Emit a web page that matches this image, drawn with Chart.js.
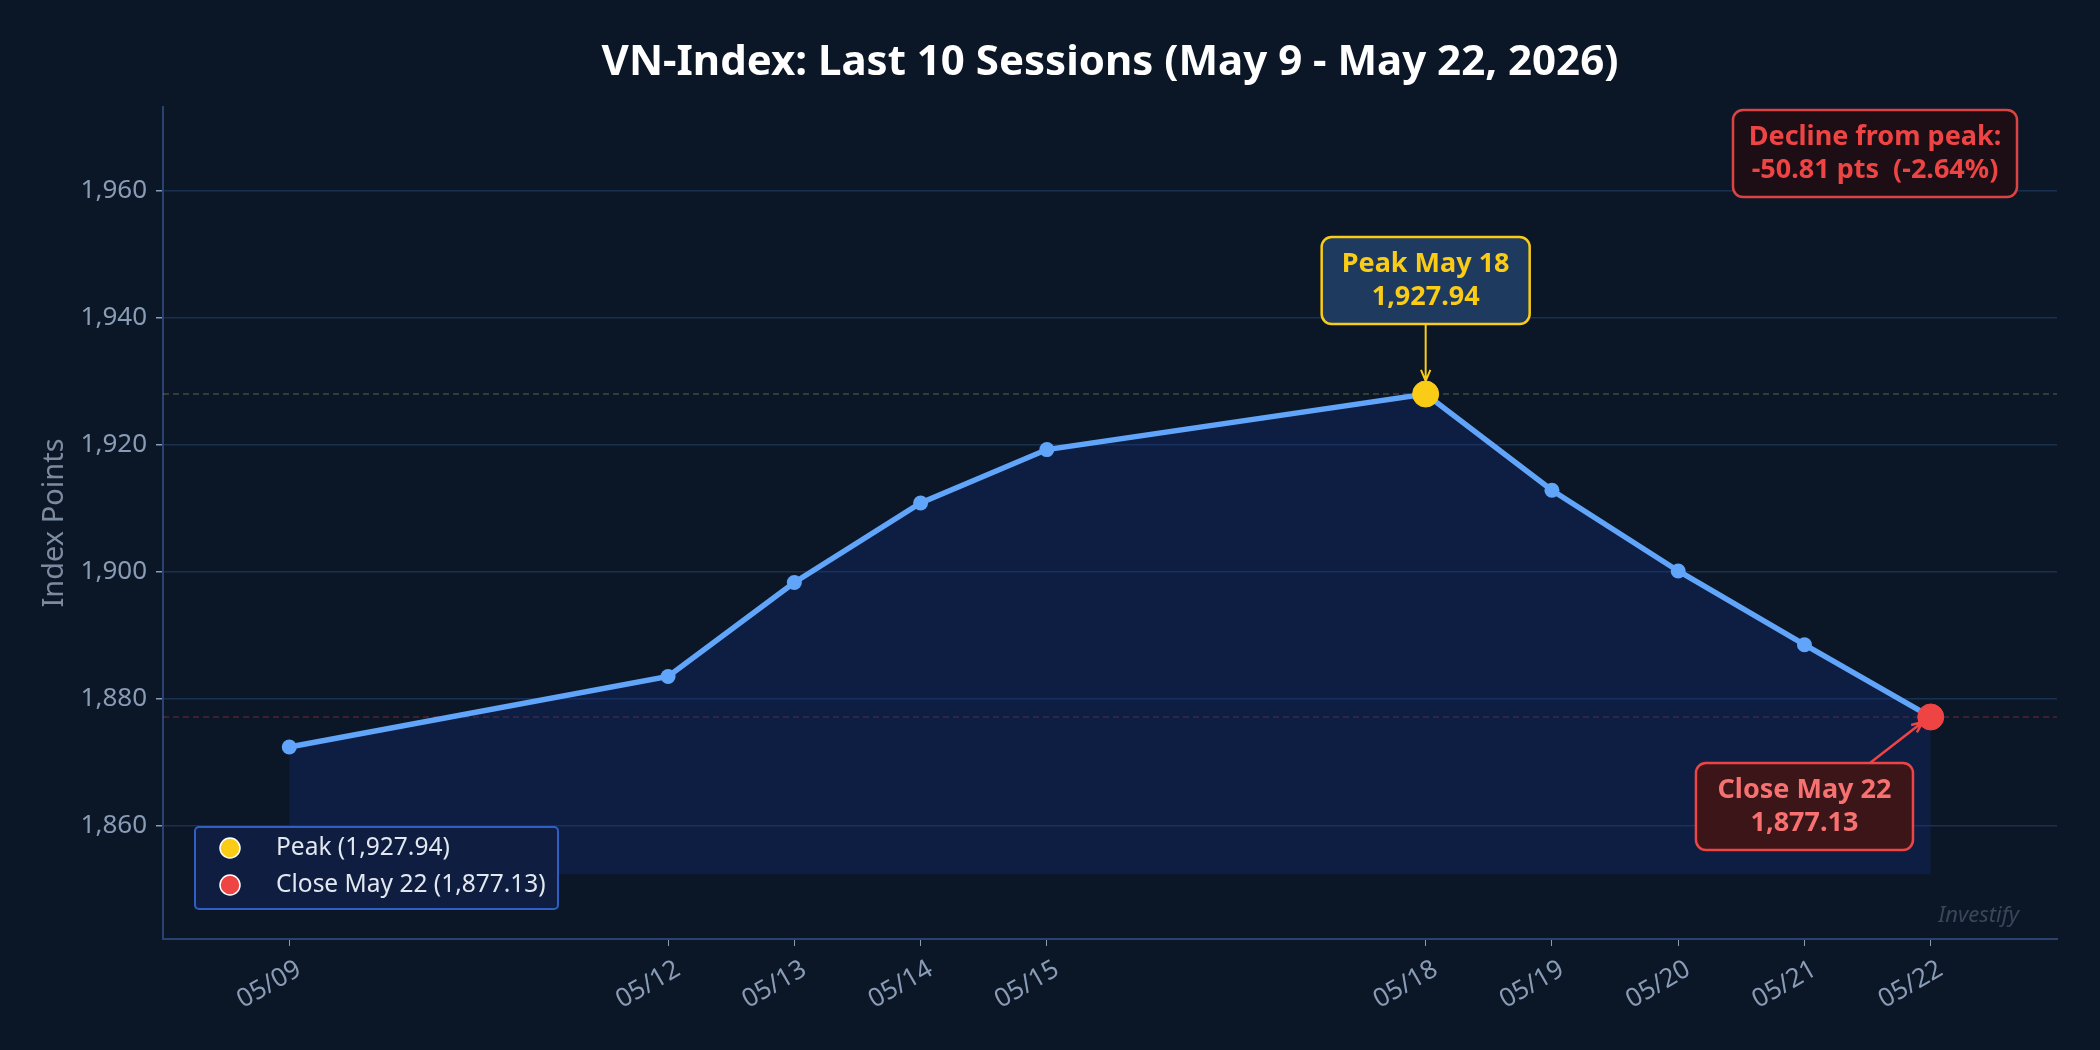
<!DOCTYPE html>
<html>
<head>
<meta charset="utf-8">
<script src="https://cdn.jsdelivr.net/npm/chart.js@4.4.1/dist/chart.umd.min.js"></script>
<style>
html, body { margin: 0; padding: 0; background: #0b1627; }
#wrap { width: 2100px; height: 1050px; }
</style>
</head>
<body>
<div id="wrap"><canvas id="chart" width="2100" height="1050"></canvas></div>
<script>
// session days in May 2026 and their labels
const days = [9, 12, 13, 14, 15, 18, 19, 20, 21, 22];
const dateLabels = ['05/09', '05/12', '05/13', '05/14', '05/15', '05/18', '05/19', '05/20', '05/21', '05/22'];
const closes = [1872.4, 1883.5, 1898.3, 1910.8, 1919.2, 1927.94, 1912.8, 1900.1, 1888.5, 1877.13];
const yTicks = [1860, 1880, 1900, 1920, 1940, 1960];
const fillBase = 1852.4;

const peakIdx = closes.indexOf(Math.max(...closes));
const lastIdx = closes.length - 1;
const peakVal = closes[peakIdx];
const lastVal = closes[lastIdx];
const drop = peakVal - lastVal;
const dropPct = drop / peakVal * 100;

const TITLE = 'VN-Index: Last 10 Sessions (May 9 - May 22, 2026)';
const fmt = v => v.toLocaleString('en-US', { minimumFractionDigits: 2, maximumFractionDigits: 2 });
const FONT = "'Noto Sans', 'Open Sans', sans-serif";

const bgPlugin = {
    id: 'bg',
    beforeDraw(chart) {
        const ctx = chart.ctx;
        ctx.save();
        ctx.fillStyle = '#0b1627';
        ctx.fillRect(0, 0, chart.width, chart.height);
        ctx.restore();
    }
};

function arrow(ctx, x1, y1, x2, y2, color, w) {
    const ang = Math.atan2(y2 - y1, x2 - x1);
    const head = 12;
    ctx.save();
    ctx.strokeStyle = color;
    ctx.lineWidth = w;
    ctx.beginPath();
    ctx.moveTo(x1, y1);
    ctx.lineTo(x2, y2);
    ctx.moveTo(x2 - head * Math.cos(ang - 0.4), y2 - head * Math.sin(ang - 0.4));
    ctx.lineTo(x2, y2);
    ctx.lineTo(x2 - head * Math.cos(ang + 0.4), y2 - head * Math.sin(ang + 0.4));
    ctx.stroke();
    ctx.restore();
}

function box(ctx, x, y, w, h, fill, stroke, lines, color) {
    ctx.save();
    ctx.beginPath();
    ctx.roundRect(x, y, w, h, 10);
    ctx.fillStyle = fill;
    ctx.fill();
    ctx.lineWidth = 2.5;
    ctx.strokeStyle = stroke;
    ctx.stroke();
    ctx.fillStyle = color;
    ctx.font = 'bold 27px ' + FONT;
    ctx.textAlign = 'center';
    ctx.textBaseline = 'middle';
    const lh = 33;
    const y0 = y + h / 2 - (lines.length - 1) * lh / 2;
    lines.forEach((t, i) => ctx.fillText(t, x + w / 2, y0 + i * lh));
    ctx.restore();
}

const notesPlugin = {
    id: 'notes',
    afterDatasetsDraw(chart) {
        const ctx = chart.ctx;
        const xs = chart.scales.x, ys = chart.scales.y;
        const area = chart.chartArea;

        // title, centred over the plot area
        ctx.save();
        ctx.fillStyle = '#ffffff';
        ctx.font = 'bold 42px ' + FONT;
        ctx.textAlign = 'center';
        ctx.textBaseline = 'alphabetic';
        ctx.fillText(TITLE, (area.left + area.right) / 2, 75);
        ctx.restore();

        // peak callout
        const px = xs.getPixelForValue(days[peakIdx]);
        const py = ys.getPixelForValue(peakVal);
        const pw = 208, ph = 87;
        const pTop = py - 70 - ph;
        arrow(ctx, px, pTop + ph, px, py - 13, '#facc15', 2);
        box(ctx, px - pw / 2, pTop, pw, ph, '#1e3a5f', '#facc15',
            ['Peak May 18', fmt(peakVal)], '#facc15');

        // close callout
        const cx = xs.getPixelForValue(days[lastIdx]);
        const cy = ys.getPixelForValue(lastVal);
        const bx = xs.getPixelForValue(days[lastIdx - 1]);
        const cw = 217, ch = 87;
        const cTop = cy + 46;
        arrow(ctx, bx - cw / 2 + 174, cTop, cx - 8, cy + 5, '#ef4444', 2.5);
        box(ctx, bx - cw / 2, cTop, cw, ch, '#3b1518', '#ef4444',
            ['Close May 22', fmt(lastVal)], '#f87171');

        // decline summary
        const dw = 284, dh = 87;
        box(ctx, area.right - 40 - dw, area.top + 3, dw, dh, '#1c0e14', '#dc4444',
            ['Decline from peak:', '-' + drop.toFixed(2) + ' pts  (-' + dropPct.toFixed(2) + '%)'], '#ef4444');

        // legend
        const lx = area.left + 32, ly = area.bottom - 30 - 82;
        ctx.save();
        ctx.beginPath();
        ctx.roundRect(lx, ly, 363, 82, 4);
        ctx.fillStyle = '#0e1d40';
        ctx.fill();
        ctx.strokeStyle = '#2f5fc4';
        ctx.lineWidth = 2;
        ctx.stroke();
        const items = chart.data.datasets.filter(d => d.inLegend);
        items.forEach((d, i) => {
            const yy = ly + 21 + i * 37;
            ctx.beginPath();
            ctx.arc(lx + 35, yy, 10, 0, Math.PI * 2);
            ctx.fillStyle = d.backgroundColor;
            ctx.fill();
            ctx.strokeStyle = '#ffffff';
            ctx.lineWidth = 1.5;
            ctx.stroke();
            ctx.fillStyle = '#e2e8f0';
            ctx.font = '24.5px ' + FONT;
            ctx.textAlign = 'left';
            ctx.textBaseline = 'middle';
            ctx.fillText(d.label, lx + 81, yy);
        });
        ctx.restore();

        // watermark
        ctx.save();
        ctx.fillStyle = '#3a4758';
        ctx.font = 'italic 22px ' + FONT;
        ctx.textAlign = 'right';
        ctx.textBaseline = 'middle';
        ctx.fillText('Investify', area.right - 38, area.bottom - 23);
        ctx.restore();
    }
};

const ctx = document.getElementById('chart').getContext('2d');
new Chart(ctx, {
    type: 'line',
    data: {
        datasets: [
            {
                label: 'Peak (' + fmt(peakVal) + ')',
                inLegend: true,
                data: [{ x: days[peakIdx], y: peakVal }],
                backgroundColor: '#facc15',
                borderColor: '#facc15',
                pointRadius: 13,
                showLine: false,
                order: 0
            },
            {
                label: 'Close May 22 (' + fmt(lastVal) + ')',
                inLegend: true,
                data: [{ x: days[lastIdx], y: lastVal }],
                backgroundColor: '#ef4444',
                borderColor: '#ef4444',
                pointRadius: 13,
                showLine: false,
                order: 0
            },
            {
                label: 'VN-Index',
                data: days.map((d, i) => ({ x: d, y: closes[i] })),
                borderColor: '#60a5fa',
                backgroundColor: 'rgba(20, 50, 130, 0.3)',
                borderWidth: 5.5,
                pointRadius: 7.5,
                pointBackgroundColor: '#60a5fa',
                pointBorderWidth: 0,
                fill: { value: fillBase },
                tension: 0,
                order: 1
            },
            {
                label: 'peak line',
                data: [{ x: 8, y: peakVal }, { x: 23, y: peakVal }],
                borderColor: 'rgba(200, 190, 110, 0.3)',
                borderWidth: 1.5,
                borderDash: [6, 4],
                pointRadius: 0,
                order: 2
            },
            {
                label: 'close line',
                data: [{ x: 8, y: lastVal }, { x: 23, y: lastVal }],
                borderColor: 'rgba(239, 68, 68, 0.3)',
                borderWidth: 1.5,
                borderDash: [6, 4],
                pointRadius: 0,
                order: 2
            }
        ]
    },
    options: {
        responsive: false,
        devicePixelRatio: 1,
        animation: false,
        layout: { padding: { left: 0, right: 43, top: 107, bottom: 0 } },
        plugins: {
            legend: { display: false },
            tooltip: { enabled: false },
            title: { display: false }
        },
        scales: {
            x: {
                type: 'linear',
                min: 8,
                max: 23,
                afterBuildTicks: s => { s.ticks = days.map(v => ({ value: v })); },
                afterFit: s => { s.height = 111; },
                grid: { drawOnChartArea: false, tickLength: 7, tickColor: '#8a9bb5' },
                border: { color: '#2b4170', width: 2 },
                ticks: {
                    autoSkip: false,
                    minRotation: 30,
                    maxRotation: 30,
                    padding: 8,
                    labelOffset: 10,
                    color: '#8a9bb5',
                    font: { family: FONT, size: 26 },
                    callback: v => dateLabels[days.indexOf(v)]
                }
            },
            y: {
                min: 1842.2,
                max: 1973.1,
                afterBuildTicks: s => { s.ticks = yTicks.map(v => ({ value: v })); },
                afterFit: s => { s.width = 163; },
                grid: { color: '#1a3050', lineWidth: 1.5, tickLength: 7, tickColor: '#8a9bb5' },
                border: { color: '#2b4170', width: 2 },
                ticks: {
                    padding: 9,
                    color: '#8a9bb5',
                    font: { family: FONT, size: 26 },
                    callback: v => v.toLocaleString('en-US')
                },
                title: {
                    display: true,
                    text: 'Index Points',
                    color: '#7d8ba0',
                    font: { family: FONT, size: 29 },
                    padding: { top: 37 }
                }
            }
        }
    },
    plugins: [bgPlugin, notesPlugin]
});
</script>
</body>
</html>
